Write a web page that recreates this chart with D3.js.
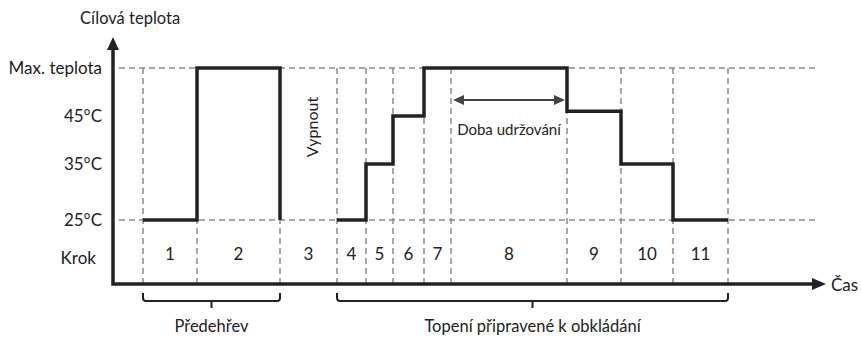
<!DOCTYPE html>
<html>
<head>
<meta charset="utf-8">
<script src="https://cdn.jsdelivr.net/npm/d3@7"></script>
<style>
  body { margin: 0; background: #fff; }
  svg text { font-family: Lato, "Noto Sans", sans-serif; fill: #222; }
</style>
</head>
<body>
<svg id="chart"></svg>
<script>
// Step labels and where each step starts on the time axis (arbitrary time units)
const stepLabels = ['1', '2', '3', '4', '5', '6', '7', '8', '9', '10', '11'];
const stepStarts = [0, 54, 137, 194, 223, 250, 281, 308, 424, 478, 530];
const stepEnd = 585;

// Target temperature for each step (null = heating off, step 3)
// 55 stands for "Max. teplota"
const stepTemps = [25, 55, null, 25, 35, 45, 55, 55, 46, 35, 25];

// Y axis tick values and their labels
const tempTicks = [25, 35, 45, 55];
const tempTickLabels = ['25°C', '35°C', '45°C', 'Max. teplota'];

// Phase groups shown with braces under the time axis
const phaseNames = ['Předehřev', 'Topení připravené k obkládání'];
const phaseFirstStep = [0, 3];
const phaseLastStep = [1, 10];

const width = 861, height = 338;
const ink = '#222', grid = '#8a8a8a';

const svg = d3.select('#chart')
  .attr('width', width)
  .attr('height', height);

// Scales
const x = d3.scaleLinear().domain([0, stepEnd]).range([143, 728]);
const y = d3.scaleLinear().domain([25, 35, 45, 55]).range([220, 164, 116, 68]);

const axisX = 113, axisY = 284;
const stepEdges = stepStarts.concat([stepEnd]);

// Horizontal dashed guides (25°C and max)
svg.selectAll('.hguide')
  .data([25, 55])
  .enter()
  .append('line')
  .attr('x1', axisX + 6)
  .attr('x2', 818)
  .attr('y1', d => y(d))
  .attr('y2', d => y(d))
  .attr('stroke', grid)
  .attr('stroke-width', 1.5)
  .attr('stroke-dasharray', '6,4');

// Vertical dashed step boundaries
svg.selectAll('.vguide')
  .data(stepEdges)
  .enter()
  .append('line')
  .attr('x1', d => x(d))
  .attr('x2', d => x(d))
  .attr('y1', y(55))
  .attr('y2', axisY)
  .attr('stroke', grid)
  .attr('stroke-width', 1.5)
  .attr('stroke-dasharray', '6,4');

// Build the step line segments (broken where heating is off)
const segments = [];
let current = [];
stepTemps.forEach((v, i) => {
  if (v === null) return;
  current.push({ t: stepStarts[i], v: v });
  const next = stepTemps[i + 1];
  if (i === stepTemps.length - 1) {
    current.push({ t: stepEdges[i + 1], v: v });
    segments.push(current);
    current = [];
  } else if (next === null) {
    current.push({ t: stepEdges[i + 1], v: 25 });
    segments.push(current);
    current = [];
  }
});

const stepLine = d3.line()
  .x(d => x(d.t))
  .y(d => y(d.v))
  .curve(d3.curveStepAfter);

svg.selectAll('.step')
  .data(segments)
  .enter()
  .append('path')
  .attr('d', stepLine)
  .attr('fill', 'none')
  .attr('stroke', ink)
  .attr('stroke-width', 3.5)
  .attr('stroke-linejoin', 'miter');

// Axes with arrowheads
svg.append('path')
  .attr('d', `M${axisX},48 V${axisY} H815`)
  .attr('fill', 'none')
  .attr('stroke', ink)
  .attr('stroke-width', 3.5);

svg.append('path')
  .attr('d', `M${axisX},37 L${axisX + 6},50 L${axisX - 6},50 Z`)
  .attr('fill', ink);

svg.append('path')
  .attr('d', `M826,${axisY} L812,${axisY - 6} L812,${axisY + 6} Z`)
  .attr('fill', ink);

svg.append('text')
  .attr('x', 80)
  .attr('y', 18)
  .attr('dy', '0.35em')
  .style('font-size', '16.5px')
  .text('Cílová teplota');

svg.append('text')
  .attr('x', 831)
  .attr('y', axisY + 1)
  .attr('dy', '0.35em')
  .style('font-size', '17px')
  .text('Čas');

// Y tick labels
svg.selectAll('.ylab')
  .data(tempTicks)
  .enter()
  .append('text')
  .attr('x', 102)
  .attr('y', d => y(d))
  .attr('dy', '0.35em')
  .attr('text-anchor', 'end')
  .style('font-size', '17px')
  .text((d, i) => tempTickLabels[i]);

svg.append('text')
  .attr('x', 96)
  .attr('y', 258)
  .attr('dy', '0.35em')
  .attr('text-anchor', 'end')
  .style('font-size', '17px')
  .text('Krok');

// Step numbers
svg.selectAll('.steplab')
  .data(stepLabels)
  .enter()
  .append('text')
  .attr('x', (d, i) => (x(stepEdges[i]) + x(stepEdges[i + 1])) / 2)
  .attr('y', 254)
  .attr('dy', '0.35em')
  .attr('text-anchor', 'middle')
  .style('font-size', '17px')
  .text(d => d);

// "Vypnout" for the off step
const offIdx = stepTemps.indexOf(null);
svg.append('text')
  .attr('transform', `translate(${(x(stepEdges[offIdx]) + x(stepEdges[offIdx + 1])) / 2 + 4},127) rotate(-90)`)
  .attr('dy', '0.35em')
  .attr('text-anchor', 'middle')
  .style('font-size', '16px')
  .text('Vypnout');

// Holding time double arrow over step 8
const holdIdx = 7;
const hx0 = x(stepEdges[holdIdx]) + 2, hx1 = x(stepEdges[holdIdx + 1]) - 2, hy = 100;
svg.append('line')
  .attr('x1', hx0 + 8).attr('x2', hx1 - 8)
  .attr('y1', hy).attr('y2', hy)
  .attr('stroke', '#444')
  .attr('stroke-width', 2);
svg.append('path')
  .attr('d', `M${hx0},${hy} L${hx0 + 11},${hy - 5} L${hx0 + 11},${hy + 5} Z M${hx1},${hy} L${hx1 - 11},${hy - 5} L${hx1 - 11},${hy + 5} Z`)
  .attr('fill', '#444');
svg.append('text')
  .attr('x', (hx0 + hx1) / 2)
  .attr('y', 130)
  .attr('dy', '0.35em')
  .attr('text-anchor', 'middle')
  .style('font-size', '15px')
  .text('Doba udržování');

// Braces under the time axis
const braceTop = 293, braceMid = 301, braceTip = 308;
phaseNames.forEach((name, i) => {
  const bx0 = x(stepEdges[phaseFirstStep[i]]);
  const bx1 = x(stepEdges[phaseLastStep[i] + 1]);
  const cx = (bx0 + bx1) / 2;
  svg.append('path')
    .attr('d', `M${bx0},${braceTop} V${braceMid - 3} Q${bx0},${braceMid} ${bx0 + 3},${braceMid} H${bx1 - 3} Q${bx1},${braceMid} ${bx1},${braceMid - 3} V${braceTop} M${cx},${braceMid} V${braceTip}`)
    .attr('fill', 'none')
    .attr('stroke', ink)
    .attr('stroke-width', 2);
  svg.append('text')
    .attr('x', cx)
    .attr('y', 326)
    .attr('dy', '0.35em')
    .attr('text-anchor', 'middle')
    .style('font-size', '16.5px')
    .text(name);
});
</script>
</body>
</html>
